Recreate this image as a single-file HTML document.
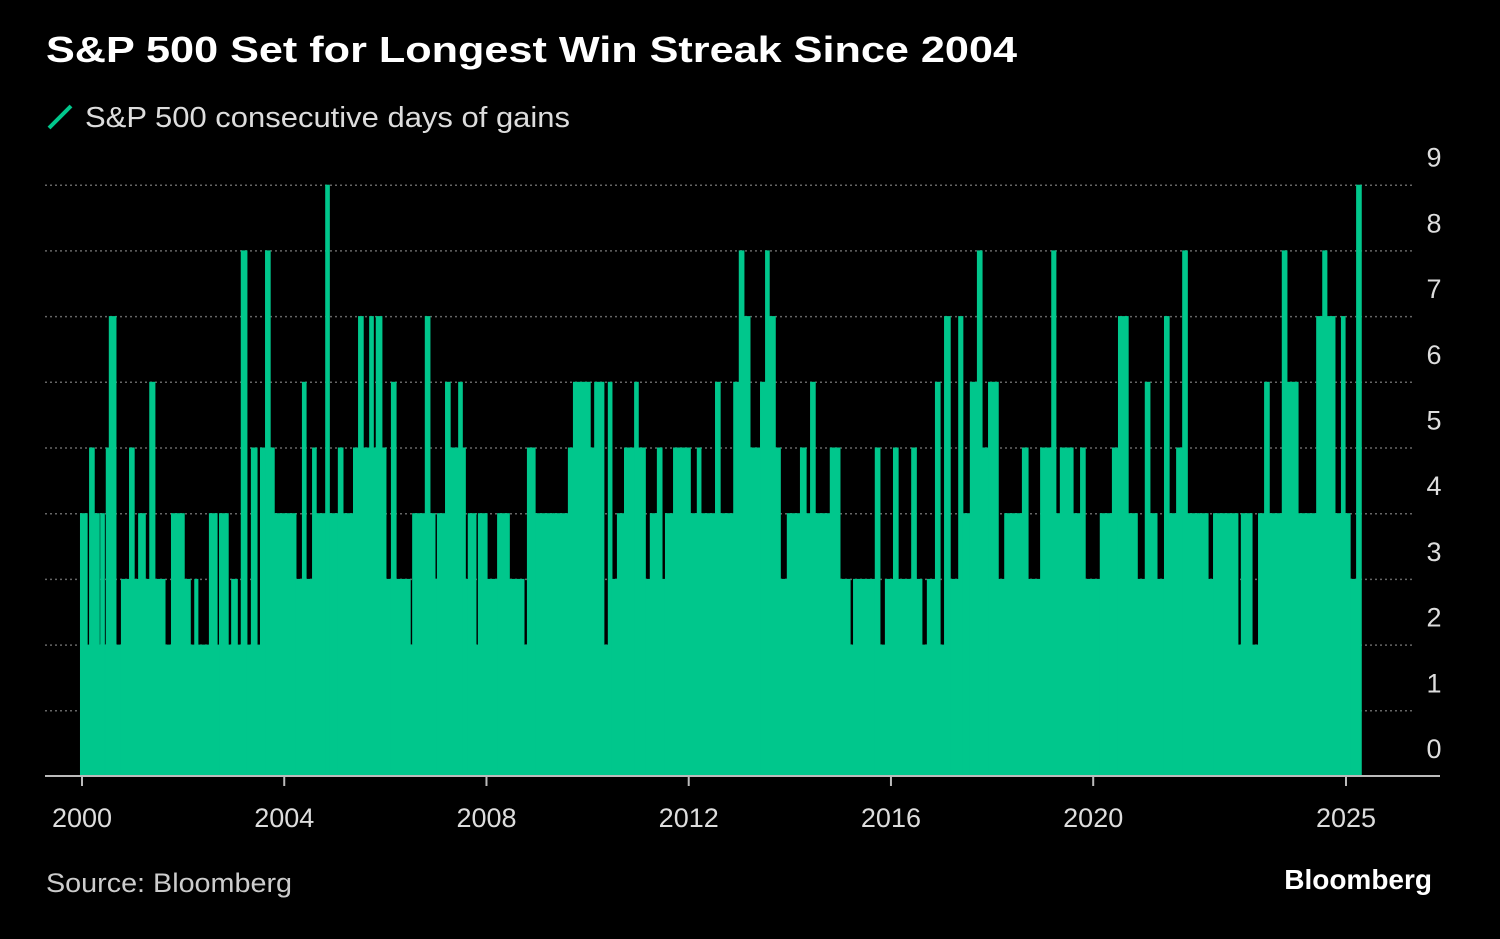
<!DOCTYPE html>
<html><head><meta charset="utf-8"><style>
body{margin:0;background:#000;width:1500px;height:934px;overflow:hidden;font-family:"Liberation Sans",sans-serif;}
</style></head><body>
<svg width="1500" height="934" xmlns="http://www.w3.org/2000/svg">
<text x="46" y="62" fill="#fff" font-size="36" font-weight="bold" textLength="971" lengthAdjust="spacingAndGlyphs">S&amp;P 500 Set for Longest Win Streak Since 2004</text>
<line x1="49" y1="128" x2="71" y2="106" stroke="#00c78c" stroke-width="4"/>
<text x="85" y="127" fill="#ddd" font-size="29" textLength="485" lengthAdjust="spacingAndGlyphs">S&amp;P 500 consecutive days of gains</text>
<g id="grid"></g><g id="bars"></g><g id="axes"></g>
<text x="46" y="892" fill="#ccc" font-size="27" textLength="246" lengthAdjust="spacingAndGlyphs">Source: Bloomberg</text>
<text x="1432" y="889" fill="#fff" font-size="28" font-weight="bold" text-anchor="end">Bloomberg</text>
</svg>
<script>
const dates=[1999.96,2000.10,2000.14,2000.24,2000.34,2000.36,2000.44,2000.47,2000.53,2000.67,2000.77,2000.93,2001.03,2001.11,2001.25,2001.33,2001.44,2001.64,2001.76,2002.02,2002.14,2002.22,2002.29,2002.51,2002.67,2002.71,2002.89,2002.95,2003.07,2003.14,2003.26,2003.34,2003.46,2003.52,2003.62,2003.72,2003.80,2004.23,2004.35,2004.43,2004.55,2004.63,2004.81,2004.89,2005.06,2005.16,2005.36,2005.46,2005.56,2005.68,2005.76,2005.81,2005.93,2006.01,2006.11,2006.21,2006.49,2006.53,2006.78,2006.88,2006.98,2007.02,2007.18,2007.28,2007.44,2007.52,2007.58,2007.63,2007.79,2007.83,2008.01,2008.21,2008.45,2008.74,2008.80,2008.96,2009.32,2009.61,2009.71,2010.05,2010.13,2010.32,2010.40,2010.48,2010.58,2010.72,2010.92,2011.00,2011.14,2011.23,2011.37,2011.47,2011.53,2011.69,2011.83,2012.03,2012.16,2012.24,2012.52,2012.62,2012.76,2012.88,2012.99,2013.09,2013.21,2013.41,2013.51,2013.59,2013.71,2013.81,2013.94,2014.20,2014.32,2014.40,2014.50,2014.64,2014.79,2014.99,2015.19,2015.25,2015.68,2015.78,2015.88,2016.04,2016.14,2016.40,2016.50,2016.61,2016.71,2016.87,2016.97,2017.05,2017.17,2017.33,2017.42,2017.56,2017.70,2017.80,2017.92,2018.12,2018.24,2018.59,2018.71,2018.95,2019.17,2019.26,2019.34,2019.60,2019.74,2019.84,2020.13,2020.37,2020.49,2020.69,2020.87,2021.02,2021.12,2021.26,2021.40,2021.50,2021.64,2021.76,2021.86,2022.07,2022.27,2022.37,2022.55,2022.86,2022.92,2023.14,2023.26,2023.38,2023.48,2023.73,2023.83,2024.05,2024.41,2024.53,2024.62,2024.78,2024.90,2024.98,2025.08,2025.20];
const streaks=[4,2,5,4,2,4,2,5,7,2,3,5,3,4,3,6,3,2,4,3,2,3,2,4,2,4,2,3,2,8,2,5,2,5,8,5,4,3,6,3,5,4,9,4,5,4,5,7,5,7,5,7,5,3,6,3,2,4,7,4,3,4,6,5,6,5,3,4,2,4,3,4,3,2,5,4,4,5,6,5,6,2,6,3,4,5,6,5,3,4,5,3,4,5,5,4,5,4,6,4,4,6,8,7,5,6,8,7,5,3,4,5,4,6,4,4,5,3,2,3,5,2,3,5,3,5,3,2,3,6,2,7,3,7,4,6,8,5,6,3,4,5,3,5,8,4,5,4,5,3,4,5,7,4,3,6,4,3,7,4,5,8,4,4,3,4,4,2,4,2,4,6,4,8,6,4,7,8,7,4,7,4,3,9];
const endDate=2025.30;
const yTicks=[0,1,2,3,4,5,6,7,8,9];
const xTickYears=[2000,2004,2008,2012,2016,2020,2025];
const NS="http://www.w3.org/2000/svg";
const X=y=>82+(y-2000)*50.56;
const Y=v=>776-v*65.7;
function mk(tag,attrs,parent){const e=document.createElementNS(NS,tag);for(const k in attrs)e.setAttribute(k,attrs[k]);parent.appendChild(e);return e;}
const grid=document.getElementById('grid'),bars=document.getElementById('bars'),axes=document.getElementById('axes');
yTicks.forEach(t=>{
  if(t>0){const l=mk('line',{x1:45,x2:1415,y1:Y(t)+0.5,y2:Y(t)+0.5,stroke:'#666','stroke-width':1.5,'stroke-dasharray':'2 3'},grid);
  
  }
  const tx=mk('text',{x:1434,y:Y(t)-18,fill:'#ddd','font-size':27,'text-anchor':'middle'},axes);tx.textContent=t;
  
  
});
dates.forEach((d,i)=>{
  const d2=i+1<dates.length?dates[i+1]:endDate;
  const r=mk('rect',{x:X(d),y:Y(streaks[i]),width:Math.max(1,X(d2)-X(d)+0.6),height:776-Y(streaks[i]),fill:'#00c78c'},bars);
  
  
});
const ax=mk('line',{x1:45,x2:1440,y1:776,y2:776,stroke:'#bbb','stroke-width':2},axes);


xTickYears.forEach(y=>{
  const l=mk('line',{x1:X(y),x2:X(y),y1:776,y2:786,stroke:'#bbb','stroke-width':2},axes);
  
  
  const t=mk('text',{x:X(y),y:827,fill:'#ddd','font-size':27,'text-anchor':'middle'},axes);t.textContent=y;
  
  
});
</script>
</body></html>
